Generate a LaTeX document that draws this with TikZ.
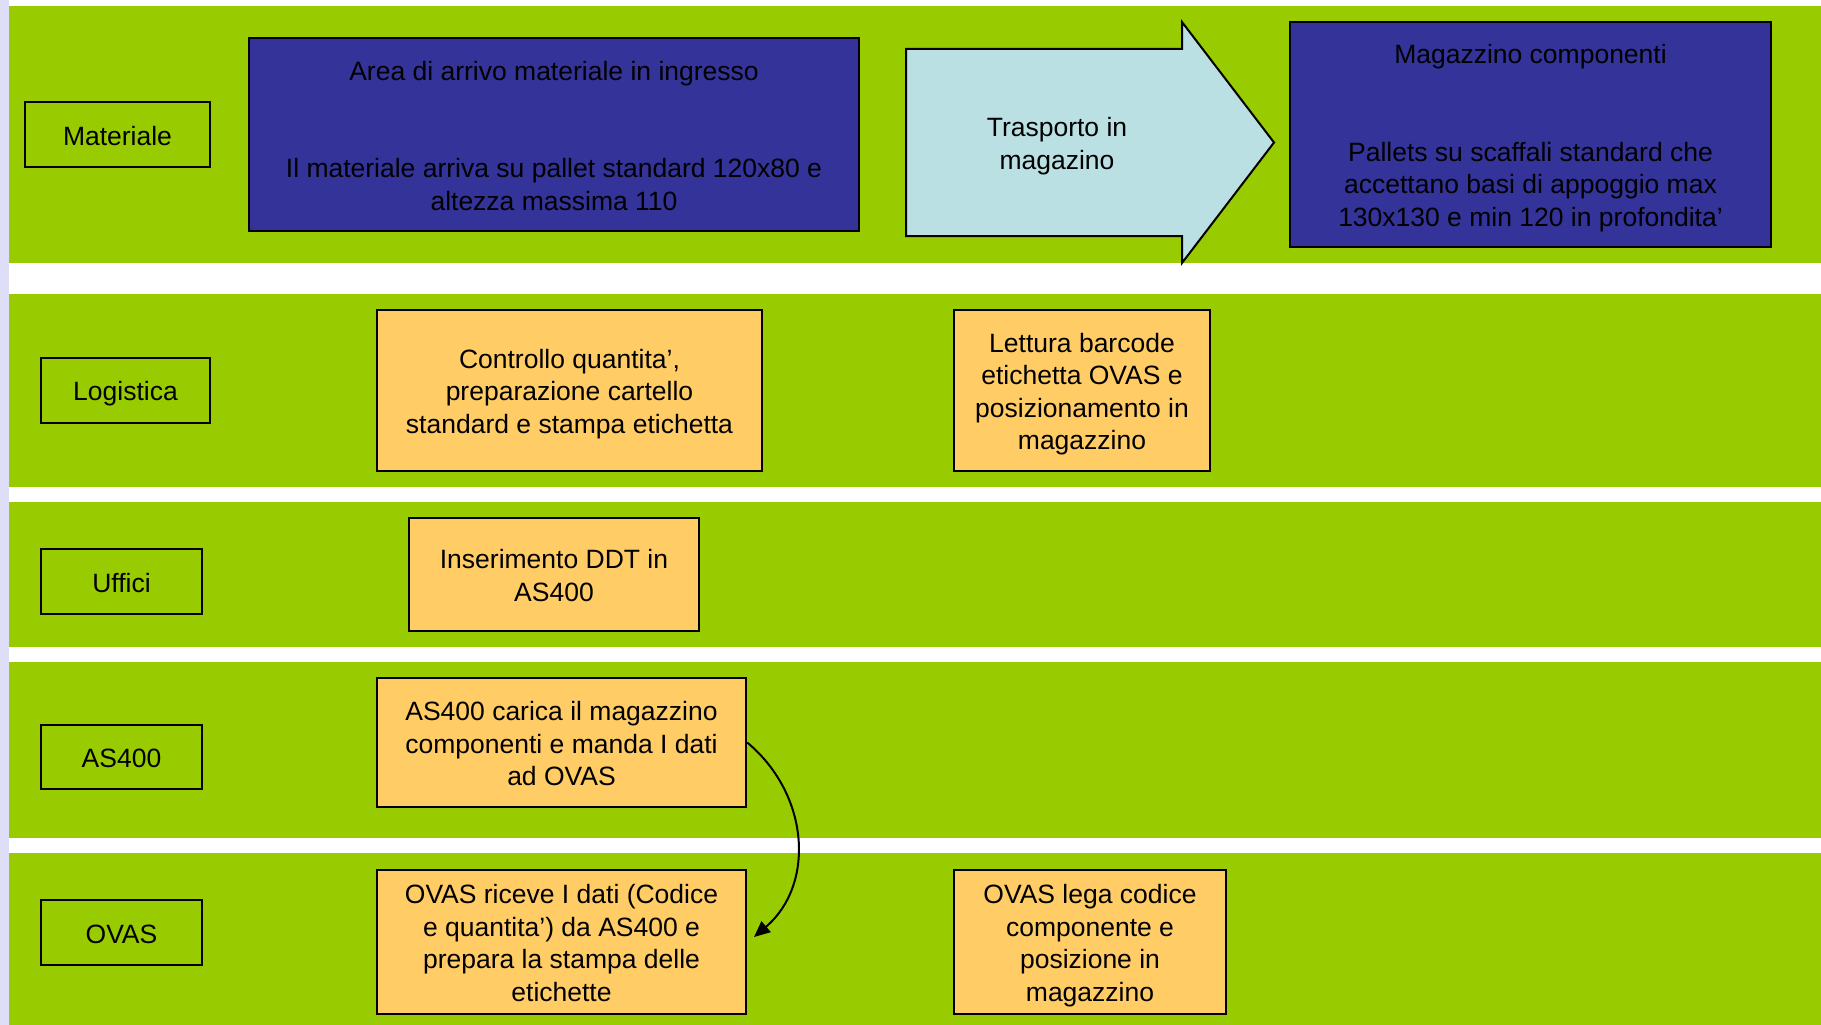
\documentclass[tikz,border=0pt]{standalone}
\usepackage{fontspec}
\setmainfont{Liberation Sans}
\usetikzlibrary{arrows.meta}
\definecolor{band}{RGB}{153,204,0}
\definecolor{navy}{RGB}{51,51,153}
\definecolor{pale}{RGB}{187,224,227}
\definecolor{peach}{RGB}{255,204,102}
\definecolor{lav}{RGB}{222,222,248}
\newcommand{\fs}{\rule{0pt}{26pt}}
\newcommand{\ls}{\rule[-5pt]{0pt}{5pt}}
\tikzset{
  txt/.style={inner sep=0pt, align=center},
  lane/.style={fill=band, draw=none},
  lanelabel/.style={txt, draw=black, line width=2.5pt, fill=band},
  navybox/.style={txt, draw=black, line width=2.5pt, fill=navy},
  task/.style={txt, draw=black, line width=2.5pt, fill=peach},
  flow/.style={line width=2pt, -{Triangle[length=16pt,width=14pt]}},
  bigarrow/.style={draw=black, line width=2pt, fill=pale}
}
\begin{document}
\begin{tikzpicture}[x=1pt, y=-1pt, font=\fontsize{26.5}{32.5}\selectfont]
\useasboundingbox (0,0) rectangle (1821,1025);
\fill[white] (0,0) rectangle (1821,1025);
\fill[lav] (0,0) rectangle (9,1025);
% lanes
\fill[lane] (9,6) rectangle (1821,263);
\fill[lane] (9,294) rectangle (1821,487);
\fill[lane] (9,502) rectangle (1821,647);
\fill[lane] (9,662) rectangle (1821,838);
\fill[lane] (9,853) rectangle (1821,1025);
% lane labels
\node[lanelabel, minimum width=185pt, minimum height=65pt] (lmat) at (117.5,134.5) {\fs Materiale\ls};
\node[lanelabel, minimum width=169pt, minimum height=65pt] (llog) at (125.5,390.5) {\fs Logistica\ls};
\node[lanelabel, minimum width=161pt, minimum height=65pt] (luff) at (121.5,581.5) {\fs Uffici\ls};
\node[lanelabel, minimum width=161pt, minimum height=64pt] (las) at (121.5,757) {\fs AS400\ls};
\node[lanelabel, minimum width=161pt, minimum height=65pt] (lov) at (121.5,932.5) {\fs OVAS\ls};
% Materiale lane
\node[navybox, minimum width=610pt, minimum height=193pt] (area) at (554,134.5)
  {\fs Area di arrivo materiale in ingresso\\[65pt]Il materiale arriva su pallet standard 120x80 e\\altezza massima 110\ls};
\draw[bigarrow] (906,49) -- (1182,49) -- (1182,22) -- (1274,142.5) -- (1182,263) -- (1182,236) -- (906,236) -- cycle;
\node[txt] (trasp) at (1057,142.5) {\fs Trasporto in\\magazino\ls};
\node[navybox, minimum width=481pt, minimum height=225pt] (mag) at (1530.5,134.5)
  {\fs Magazzino componenti\\[65pt]Pallets su scaffali standard che\\accettano basi di appoggio max\\130x130 e min 120 in profondita’\ls};
% Logistica lane
\node[task, minimum width=385pt, minimum height=161pt] (ctrl) at (569.5,390.5)
  {\fs Controllo quantita’,\\preparazione cartello\\standard e stampa etichetta\ls};
\node[task, minimum width=256pt, minimum height=161pt] (lett) at (1082,390.5)
  {\fs Lettura barcode\\etichetta OVAS e\\posizionamento in\\magazzino\ls};
% Uffici lane
\node[task, minimum width=290pt, minimum height=113pt] (ddt) at (554,574.5)
  {\fs Inserimento DDT in\\AS400\ls};
% AS400 lane
\node[task, minimum width=369pt, minimum height=129pt] (as) at (561.5,742.5)
  {\fs AS400 carica il magazzino\\componenti e manda I dati\\ad OVAS\ls};
% OVAS lane
\node[task, minimum width=369pt, minimum height=144pt] (ovr) at (561.5,942)
  {\fs OVAS riceve I dati (Codice\\e quantita’) da AS400 e\\prepara la stampa delle\\etichette\ls};
\node[task, minimum width=272pt, minimum height=144pt] (ovl) at (1090,942)
  {\fs OVAS lega codice\\componente e\\posizione in\\magazzino\ls};
% connector
\coordinate (tip) at (754,937);
\draw[flow] (as.east) .. controls (810,795) and (815,885) .. (tip);
\end{tikzpicture}
\end{document}
